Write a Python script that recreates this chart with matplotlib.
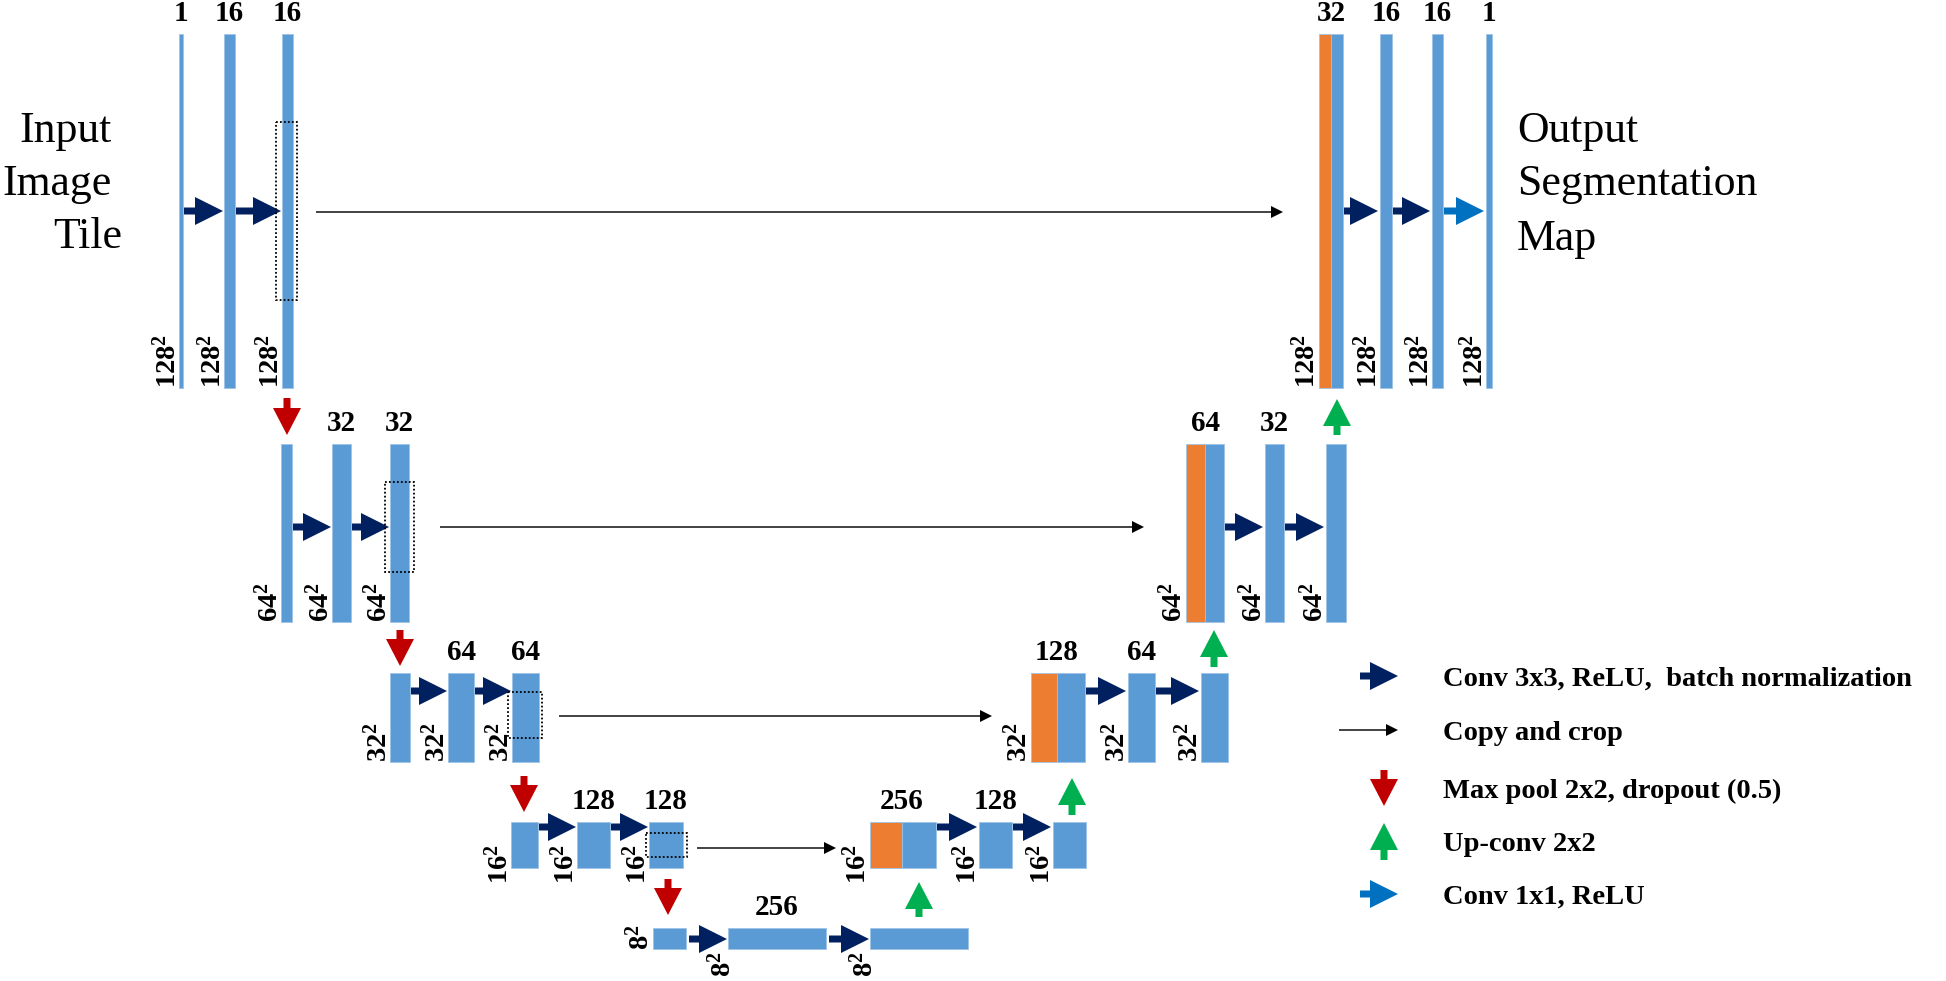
import matplotlib
matplotlib.use("Agg")
import matplotlib.pyplot as plt
from matplotlib.patches import Rectangle, Polygon

plt.rcParams["mathtext.fontset"] = "custom"
plt.rcParams["mathtext.rm"] = "Liberation Serif"
plt.rcParams["mathtext.bf"] = "Liberation Serif:bold"

# ---------------- data ----------------
resolutions = [128, 64, 32, 16, 8]
enc_channels = [["1", "16", "16"], ["", "32", "32"], ["", "64", "64"], ["", "128", "128"]]
bottleneck_channels = ["", "256", ""]
dec_channels = [["32", "16", "16", "1"], ["64", "32", ""], ["128", "64", ""], ["256", "128", ""]]
legend_labels = ["Conv 3x3, ReLU,  batch normalization", "Copy and crop",
                 "Max pool 2x2, dropout (0.5)", "Up-conv 2x2", "Conv 1x1, ReLU"]
input_lines = ["Input", "Image", "Tile"]
output_lines = ["Output", "Segmentation", "Map"]

# ---------------- layout (pixel space) ----------------
level_y = [(34, 388), (444, 622), (673, 762), (822, 868)]
enc_bars = [[(179, 183), (224, 235), (282, 293)],
            [(281, 292), (332, 351), (390, 409)],
            [(390, 410), (448, 474), (512, 539)],
            [(511, 538), (577, 610), (649, 683)]]
enc_arrow_y = [211, 527, 691, 827]
dotted = [(276, 122, 297, 300), (385, 482, 414, 572), (508, 692, 542, 738), (646, 833, 687, 857)]
copy_arrows = [(316, 1283, 212), (440, 1144, 527), (559, 992, 716), (697, 836, 848)]
dec_concat = [(1319, 1331, 1343), (1186, 1205, 1224), (1031, 1057, 1085), (870, 902, 936)]
dec_bars = [[(1380, 1392), (1432, 1443), (1486, 1492)],
            [(1265, 1284), (1326, 1346)],
            [(1128, 1155), (1201, 1228)],
            [(979, 1012), (1053, 1086)]]
size_label_drop = [0, 0, 0, 16]
bot_y = (928, 949)
bot_bars = [(653, 686), (728, 826), (870, 968)]
bot_arrow_y = 939
bot_size_pos = [(649, 950), (731, 977), (873, 977)]
pool_arrows = [(287, 398, 435), (400, 630, 666), (524, 776, 812), (668, 879, 915)]
up_arrows = [(1337, 435, 399), (1214, 667, 630), (1072, 815, 778), (919, 917, 882)]
legend_rows = [676, 730, 788, 841, 894]

BLUE = "#5B9BD5"
ORANGE = "#ED7D31"
NAVY = "#002060"
RED = "#C00000"
GREEN = "#00B050"
LBLUE = "#0070C0"
SERIF = "Liberation Serif"

fig = plt.figure(figsize=(19.46, 9.81), dpi=100)
ax = fig.add_axes([0, 0, 1, 1])
ax.set_xlim(0, 1946)
ax.set_ylim(981, 0)
ax.axis("off")


def bar(x0, x1, y0, y1, color=BLUE):
    ax.add_patch(Rectangle((x0, y0), x1 - x0, y1 - y0, facecolor=color,
                           edgecolor="#9DC3E6", lw=0.6, zorder=2))


def harrow(x0, x1, y, color=NAVY, hl=28, hw=14, sw=3.5):
    pts = [(x0, y - sw), (x1 - hl, y - sw), (x1 - hl, y - hw), (x1, y),
           (x1 - hl, y + hw), (x1 - hl, y + sw), (x0, y + sw)]
    ax.add_patch(Polygon(pts, closed=True, facecolor=color, edgecolor="none", zorder=3))


def varrow(x, y0, y1, color, hl=27, hw=14, sw=3.5):
    d = 1 if y1 > y0 else -1
    yb = y1 - d * hl
    pts = [(x - sw, y0), (x - sw, yb), (x - hw, yb), (x, y1),
           (x + hw, yb), (x + sw, yb), (x + sw, y0)]
    ax.add_patch(Polygon(pts, closed=True, facecolor=color, edgecolor="none", zorder=3))


def copy_arrow(x0, x1, y):
    ax.plot([x0, x1 - 10], [y, y], color="#222222", lw=1.2, zorder=3,
            solid_capstyle="butt")
    ax.add_patch(Polygon([(x1 - 12, y - 6), (x1, y), (x1 - 12, y + 6)], closed=True,
                         facecolor="black", edgecolor="none", zorder=3))


def ch_label(xc, ytop, s):
    if s:
        ax.text(xc, ytop - 13, s, ha="center", va="baseline", fontsize=21,
                fontweight="bold", family=SERIF)


def size_label(xr, ybot, res):
    ax.text(xr, ybot, r"$\mathbf{%d^{2}}$" % res, rotation=90, rotation_mode="anchor",
            ha="left", va="baseline", fontsize=20.5)


# encoder / decoder levels
for lvl in range(4):
    y0, y1 = level_y[lvl]
    res = resolutions[lvl]
    drop = size_label_drop[lvl]
    for (x0, x1), ch in zip(enc_bars[lvl], enc_channels[lvl]):
        bar(x0, x1, y0, y1)
        ch_label((x0 + x1) / 2, y0, ch)
        size_label(x0 - 3, y1 + drop, res)
    bars = enc_bars[lvl]
    for i in range(len(bars) - 1):
        harrow(bars[i][1] + 1, bars[i + 1][0] - 1, enc_arrow_y[lvl])
    dx0, dy0, dx1, dy1 = dotted[lvl]
    ax.add_patch(Rectangle((dx0, dy0), dx1 - dx0, dy1 - dy0, fill=False,
                           edgecolor="black", lw=1.3, ls=(0, (1, 1.2)), zorder=4))
    copy_arrow(*copy_arrows[lvl])

    # decoder
    xo, xm, xb = dec_concat[lvl]
    bar(xo, xm, y0, y1, ORANGE)
    bar(xm, xb, y0, y1, BLUE)
    ch_label(xm, y0, dec_channels[lvl][0])
    size_label(xo - 4, y1 + drop, res)
    prev = xb
    for j, ((x0, x1), ch) in enumerate(zip(dec_bars[lvl], dec_channels[lvl][1:])):
        bar(x0, x1, y0, y1)
        ch_label((x0 + x1) / 2, y0, ch)
        size_label(x0 - 3, y1 + drop, res)
        is_last_top = (lvl == 0 and j == len(dec_bars[lvl]) - 1)
        harrow(prev + 1, x0 - 2, enc_arrow_y[lvl], LBLUE if is_last_top else NAVY)
        prev = x1

# bottleneck
for (x0, x1), ch, (lx, ly) in zip(bot_bars, bottleneck_channels, bot_size_pos):
    bar(x0, x1, bot_y[0], bot_y[1])
    ch_label((x0 + x1) / 2, bot_y[0], ch)
    size_label(lx, ly, resolutions[4])
for i in range(len(bot_bars) - 1):
    harrow(bot_bars[i][1] + 3, bot_bars[i + 1][0] - 1, bot_arrow_y)

for x, a, b in pool_arrows:
    varrow(x, a, b, RED)
for x, a, b in up_arrows:
    varrow(x, a, b, GREEN)

# side texts
for s, yb in zip(input_lines, [142, 195, 248]):
    ax.text(122 if s == "Tile" else 112, yb, s, ha="right", va="baseline",
            fontsize=31.5, family=SERIF)
for s, yb in zip(output_lines, [142, 195, 250]):
    ax.text(1517, yb, s, ha="left", va="baseline", fontsize=31.5, family=SERIF)

# legend
harrow(1360, 1398, legend_rows[0], NAVY)
copy_arrow(1339, 1398, legend_rows[1])
varrow(1384, legend_rows[2] - 18, legend_rows[2] + 18, RED)
varrow(1384, legend_rows[3] + 19, legend_rows[3] - 18, GREEN)
harrow(1360, 1398, legend_rows[4], LBLUE)
for s, yr in zip(legend_labels, legend_rows):
    ax.text(1443, yr + 10, s, ha="left", va="baseline", fontsize=20.5,
            fontweight="bold", family=SERIF)

fig.savefig("out.png", dpi=100, facecolor="white")
